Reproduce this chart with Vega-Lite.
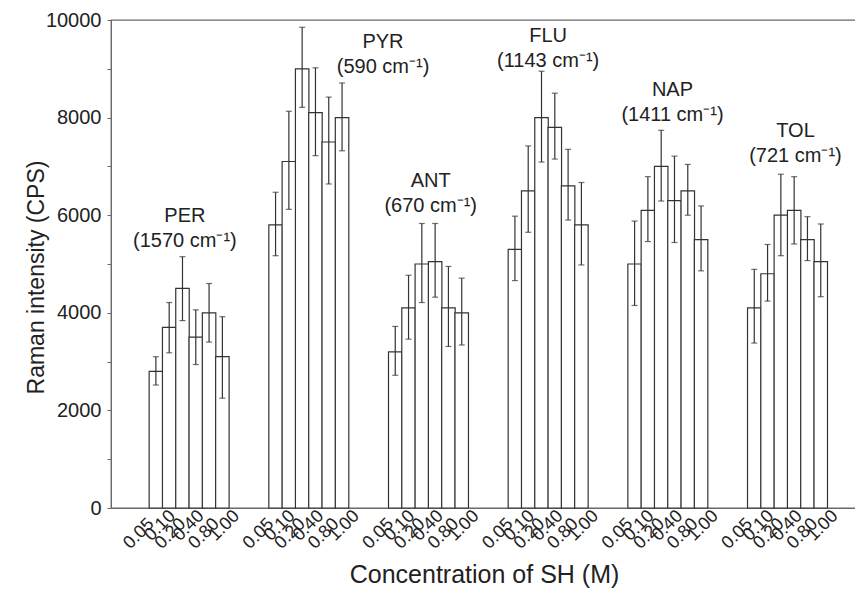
{
  "$schema": "https://vega.github.io/schema/vega-lite/v6.json",
  "autosize": "none",
  "width": 746,
  "height": 488,
  "padding": {"left": 111, "top": 20, "right": 0, "bottom": 90},
  "background": "white",
  "config": {
    "font": "Liberation Sans",
    "view": {"stroke": "#6a6a6a", "strokeWidth": 1.3},
    "axis": {"domainColor": "#6a6a6a", "tickColor": "#6a6a6a", "labelColor": "#222222", "titleColor": "#222222", "titleFontWeight": "normal", "grid": false}
  },
  "encoding": {
    "x": {"type": "quantitative", "title": "Concentration of SH (M)",
      "scale": {"domain": [-3, 52.35], "nice": false, "zero": false},
      "axis": {"titleFontSize": 25, "titlePadding": 10,
        "values": [0,1,2,3,4,5,9,10,11,12,13,14,18,19,20,21,22,23,27,28,29,30,31,32,36,37,38,39,40,41,45,46,47,48,49,50],
        "labelExpr": "['0.05','0.10','0.20','0.40','0.80','1.00'][datum.value % 9]",
        "labelAngle": -45, "labelAlign": "right", "labelBaseline": "middle",
        "labelFontSize": 18,
        "labelPadding": {"condition": {"test": "(datum.value % 9) % 2 == 0", "value": 13}, "value": 5},
        "labelOffset": {"condition": [
          {"test": "datum.value % 9 == 0", "value": -5},
          {"test": "datum.value % 9 == 1", "value": 3},
          {"test": "datum.value % 9 == 2", "value": 0},
          {"test": "datum.value % 9 == 3", "value": 5},
          {"test": "datum.value % 9 == 4", "value": 7}
        ], "value": 14},
        "ticks": false, "domain": true, "labelOverlap": false, "labelBound": false}},
    "y": {"type": "quantitative", "title": "Raman intensity (CPS)",
      "scale": {"domain": [0, 10000], "nice": false},
      "axis": {"titleFontSize": 23, "titlePadding": -3, "titleY": 257,
        "values": [0,1000,2000,3000,4000,5000,6000,7000,8000,9000,10000],
        "format": "d",
        "labelExpr": "datum.value % 2000 == 0 ? datum.label : ''",
        "labelFontSize": 20, "labelPadding": 6, "tickSize": 4}}
  },
  "layer": [
    {
      "data": {"values": [
        {"g": 0, "compound": "PER", "conc": "0.05", "v": 2800, "lo": 2520, "hi": 3100},
        {"g": 0, "compound": "PER", "conc": "0.10", "v": 3700, "lo": 3180, "hi": 4210},
        {"g": 0, "compound": "PER", "conc": "0.20", "v": 4500, "lo": 3840, "hi": 5150},
        {"g": 0, "compound": "PER", "conc": "0.40", "v": 3500, "lo": 2940, "hi": 4060},
        {"g": 0, "compound": "PER", "conc": "0.80", "v": 4000, "lo": 3400, "hi": 4600},
        {"g": 0, "compound": "PER", "conc": "1.00", "v": 3100, "lo": 2250, "hi": 3920},
        {"g": 1, "compound": "PYR", "conc": "0.05", "v": 5800, "lo": 5170, "hi": 6470},
        {"g": 1, "compound": "PYR", "conc": "0.10", "v": 7100, "lo": 6120, "hi": 8130},
        {"g": 1, "compound": "PYR", "conc": "0.20", "v": 9000, "lo": 8210, "hi": 9850},
        {"g": 1, "compound": "PYR", "conc": "0.40", "v": 8100, "lo": 7220, "hi": 9020},
        {"g": 1, "compound": "PYR", "conc": "0.80", "v": 7500, "lo": 6640, "hi": 8420},
        {"g": 1, "compound": "PYR", "conc": "1.00", "v": 8000, "lo": 7320, "hi": 8710},
        {"g": 2, "compound": "ANT", "conc": "0.05", "v": 3200, "lo": 2720, "hi": 3720},
        {"g": 2, "compound": "ANT", "conc": "0.10", "v": 4100, "lo": 3460, "hi": 4770},
        {"g": 2, "compound": "ANT", "conc": "0.20", "v": 5000, "lo": 4210, "hi": 5830},
        {"g": 2, "compound": "ANT", "conc": "0.40", "v": 5050, "lo": 4320, "hi": 5830},
        {"g": 2, "compound": "ANT", "conc": "0.80", "v": 4100, "lo": 3310, "hi": 4950},
        {"g": 2, "compound": "ANT", "conc": "1.00", "v": 4000, "lo": 3340, "hi": 4710},
        {"g": 3, "compound": "FLU", "conc": "0.05", "v": 5300, "lo": 4660, "hi": 5980},
        {"g": 3, "compound": "FLU", "conc": "0.10", "v": 6500, "lo": 5650, "hi": 7420},
        {"g": 3, "compound": "FLU", "conc": "0.20", "v": 8000, "lo": 7090, "hi": 8950},
        {"g": 3, "compound": "FLU", "conc": "0.40", "v": 7800, "lo": 7150, "hi": 8500},
        {"g": 3, "compound": "FLU", "conc": "0.80", "v": 6600, "lo": 5900, "hi": 7350},
        {"g": 3, "compound": "FLU", "conc": "1.00", "v": 5800, "lo": 4980, "hi": 6670},
        {"g": 4, "compound": "NAP", "conc": "0.05", "v": 5000, "lo": 4150, "hi": 5880},
        {"g": 4, "compound": "NAP", "conc": "0.10", "v": 6100, "lo": 5460, "hi": 6790},
        {"g": 4, "compound": "NAP", "conc": "0.20", "v": 7000, "lo": 6290, "hi": 7740},
        {"g": 4, "compound": "NAP", "conc": "0.40", "v": 6300, "lo": 5440, "hi": 7210},
        {"g": 4, "compound": "NAP", "conc": "0.80", "v": 6500, "lo": 6000, "hi": 7040},
        {"g": 4, "compound": "NAP", "conc": "1.00", "v": 5500, "lo": 4860, "hi": 6190},
        {"g": 5, "compound": "TOL", "conc": "0.05", "v": 4100, "lo": 3380, "hi": 4890},
        {"g": 5, "compound": "TOL", "conc": "0.10", "v": 4800, "lo": 4240, "hi": 5400},
        {"g": 5, "compound": "TOL", "conc": "0.20", "v": 6000, "lo": 5170, "hi": 6840},
        {"g": 5, "compound": "TOL", "conc": "0.40", "v": 6100, "lo": 5410, "hi": 6790},
        {"g": 5, "compound": "TOL", "conc": "0.80", "v": 5500, "lo": 5070, "hi": 5970},
        {"g": 5, "compound": "TOL", "conc": "1.00", "v": 5050, "lo": 4330, "hi": 5820}
      ]},
      "transform": [
        {"calculate": "datum.g * 9 + indexof(['0.05','0.10','0.20','0.40','0.80','1.00'], datum.conc)", "as": "pos"}
      ],
      "layer": [
        {
          "mark": {"type": "bar", "width": 13.48, "fill": "white", "stroke": "#333333", "strokeWidth": 1.2},
          "encoding": {
            "x": {"field": "pos"},
            "y": {"field": "v"}
          }
        },
        {
          "mark": {"type": "rule", "color": "#333333", "strokeWidth": 1.2},
          "encoding": {
            "x": {"field": "pos"},
            "y": {"field": "lo"},
            "y2": {"field": "hi"}
          }
        },
        {
          "mark": {"type": "tick", "orient": "horizontal", "color": "#333333", "size": 6, "thickness": 1.2},
          "encoding": {
            "x": {"field": "pos"},
            "y": {"field": "lo"}
          }
        },
        {
          "mark": {"type": "tick", "orient": "horizontal", "color": "#333333", "size": 6, "thickness": 1.2},
          "encoding": {
            "x": {"field": "pos"},
            "y": {"field": "hi"}
          }
        }
      ]
    },
    {
      "data": {"values": [
        {"compound": "PER", "label": ["PER", "(1570 cm⁻¹)"], "lx": 2.18, "ly": 5861},
        {"compound": "PYR", "label": ["PYR", "(590 cm⁻¹)"], "lx": 17.08, "ly": 9426},
        {"compound": "ANT", "label": ["ANT", "(670 cm⁻¹)"], "lx": 20.67, "ly": 6572},
        {"compound": "FLU", "label": ["FLU", "(1143 cm⁻¹)"], "lx": 29.5, "ly": 9543},
        {"compound": "NAP", "label": ["NAP", "(1411 cm⁻¹)"], "lx": 38.85, "ly": 8443},
        {"compound": "TOL", "label": ["TOL", "(721 cm⁻¹)"], "lx": 48.1, "ly": 7596}
      ]},
      "mark": {"type": "text", "fontSize": 20, "align": "center", "baseline": "alphabetic", "lineHeight": 25, "color": "#222222"},
      "encoding": {
        "x": {"field": "lx"},
        "y": {"field": "ly"},
        "text": {"field": "label"}
      }
    }
  ]
}
